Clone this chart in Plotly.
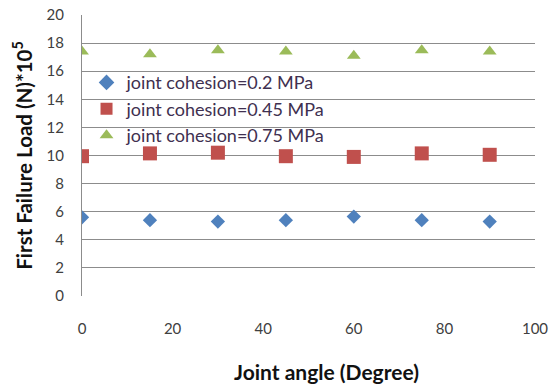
import plotly.graph_objects as go

angles = [0, 15, 30, 45, 60, 75, 90]
coh_02 = [5.6, 5.4, 5.3, 5.4, 5.65, 5.4, 5.3]
coh_045 = [9.95, 10.15, 10.2, 9.95, 9.9, 10.15, 10.05]
coh_075 = [17.4, 17.2, 17.5, 17.4, 17.1, 17.5, 17.4]
names = ["joint cohesion=0.2 MPa", "joint cohesion=0.45 MPa", "joint cohesion=0.75 MPa"]
x_title = "<b>Joint angle (Degree)</b>"
y_title = "<b>First Failure Load (N)*10<sup>5</sup></b>"

FONT = "Lato, Open Sans, sans-serif"
fig = go.Figure()
fig.add_trace(go.Scatter(x=angles, y=coh_02, mode="markers", name=names[0],
                         marker=dict(symbol="diamond", size=11, color="#4F81BD")))
fig.add_trace(go.Scatter(x=angles, y=coh_045, mode="markers", name=names[1],
                         marker=dict(symbol="square", size=14, color="#C0504D")))
fig.add_trace(go.Scatter(x=angles, y=coh_075, mode="markers", name=names[2],
                         marker=dict(symbol="triangle-up", size=12, color="#9BBB59")))

fig.update_layout(
    width=554, height=392,
    margin=dict(l=82, r=19, t=15, b=96),
    paper_bgcolor="white", plot_bgcolor="white",
    font=dict(family=FONT, size=15, color="#404040"),
    legend=dict(x=0.01, y=0.825, xanchor="left", yanchor="top",
                bgcolor="rgba(0,0,0,0)", font=dict(size=18, color="#403050"),
                itemsizing="constant", tracegroupgap=0),
    showlegend=True,
)
fig.add_annotation(text=x_title, xref="paper", yref="paper", x=0.539, y=-0.27,
                   xanchor="center", yanchor="middle", showarrow=False,
                   font=dict(size=21, color="#111111"))
fig.update_xaxes(range=[0, 100], tickvals=[0, 20, 40, 60, 80, 100],
                 showgrid=False, zeroline=False, showline=False, automargin=False,
                 ticks="", ticklabelstandoff=22)
fig.update_yaxes(range=[0, 20], tickvals=list(range(0, 21, 2)),
                 showgrid=True, gridcolor="#8C8C8C", gridwidth=1, automargin=False,
                 zeroline=False, showline=True, linecolor="#8C8C8C", linewidth=1,
                 ticks="", ticklabelstandoff=14,
                 title=dict(text=y_title, font=dict(size=20.5, color="#111111"), standoff=8))
fig.write_html("out.html")
